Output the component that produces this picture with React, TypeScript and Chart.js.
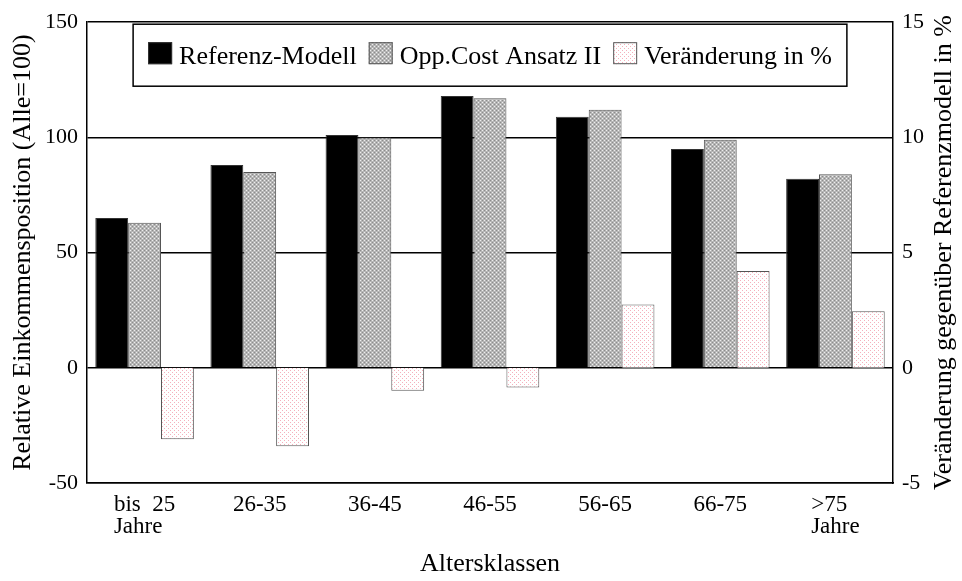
import React, { useEffect, useRef } from "react";
import { Chart, registerables } from "chart.js";

Chart.register(...registerables);

const categories: (string | string[])[] = [
  ["bis  25", "Jahre"],
  "26-35",
  "36-45",
  "46-55",
  "56-65",
  "66-75",
  [">75", "Jahre"],
];
const referenzModell = [65, 88, 101, 118, 109, 95, 82];
const oppCostAnsatz = [63, 85, 100, 117, 112, 99, 84];
const veraenderung = [-3.1, -3.4, -1.0, -0.85, 2.75, 4.2, 2.45];

const seriesLabels = ["Referenz-Modell", "Opp.Cost Ansatz II", "Veränderung in %"];
const leftTicks = [-50, 0, 50, 100, 150];
const rightTicks = [-5, 0, 5, 10, 15];
const leftTitle = "Relative Einkommensposition (Alle=100)";
const rightTitle = "Veränderung gegenüber Referenzmodell in %";
const xTitle = "Altersklassen";

const FONT = '"Liberation Serif", "Times New Roman", serif';

function makePattern(size: number, bg: string, cells: [number, number, string][]) {
  const c = document.createElement("canvas");
  c.width = size;
  c.height = size;
  const g = c.getContext("2d")!;
  g.fillStyle = bg;
  g.fillRect(0, 0, size, size);
  cells.forEach(([x, y, col]) => {
    g.fillStyle = col;
    g.fillRect(x, y, 1, 1);
  });
  const ctx = document.createElement("canvas").getContext("2d")!;
  return ctx.createPattern(c, "repeat")!;
}

export default function App() {
  const ref = useRef<HTMLCanvasElement | null>(null);

  useEffect(() => {
    const canvas = ref.current!;
    const grayPat = makePattern(4, "#b6b6b6", [
      [0, 0, "#eeeeee"],
      [2, 2, "#eeeeee"],
      [2, 0, "#8c8c8c"],
      [0, 2, "#8c8c8c"],
    ]);
    const pinkPat = makePattern(4, "#ffffff", [
      [0, 0, "#f4b0bc"],
      [2, 2, "#f4b0bc"],
    ]);
    const fills = ["#000000", grayPat, pinkPat];
    const borders = ["#333333", "#555555", "#555555"];

    const overlay = {
      id: "overlay",
      afterDraw(chart: any) {
        const ctx = chart.ctx as CanvasRenderingContext2D;
        const a = chart.chartArea;
        ctx.save();

        // Category labels (lines left-aligned inside a centred block)
        const xs = chart.scales.x;
        ctx.font = `23px ${FONT}`;
        ctx.fillStyle = "#000";
        ctx.textAlign = "left";
        ctx.textBaseline = "alphabetic";
        categories.forEach((lab, i) => {
          const lines = Array.isArray(lab) ? lab : [lab];
          const cx = xs.getPixelForValue(i);
          const maxW = Math.max(...lines.map((l) => ctx.measureText(l).width));
          lines.forEach((l, j) => {
            ctx.fillText(l, cx - maxW / 2, a.bottom + 28 + j * 22);
          });
        });

        // Legend box
        ctx.font = `26px ${FONT}`;
        const sq = 24;
        const gapSqText = 7;
        const gapItems = 12;
        const widths = seriesLabels.map((t) => ctx.measureText(t).width);
        const itemsW =
          widths.reduce((s, w) => s + sq + gapSqText + w, 0) + gapItems * (seriesLabels.length - 1);
        const pad = 15;
        const boxW = itemsW + pad * 2;
        const boxX = (a.left + a.right) / 2 - boxW / 2;
        const boxY = a.top + 2;
        const boxH = 62;
        ctx.fillStyle = "#fff";
        ctx.fillRect(boxX, boxY, boxW, boxH);
        ctx.strokeStyle = "#000";
        ctx.lineWidth = 1.5;
        ctx.strokeRect(boxX, boxY, boxW, boxH);
        let x = boxX + pad;
        const sqTop = boxY + 18;
        seriesLabels.forEach((t, i) => {
          ctx.fillStyle = fills[i] as any;
          ctx.fillRect(x, sqTop, sq, 22);
          ctx.strokeStyle = borders[i];
          ctx.lineWidth = 1;
          ctx.strokeRect(x + 0.5, sqTop + 0.5, sq - 1, 21);
          x += sq + gapSqText;
          ctx.fillStyle = "#000";
          ctx.textAlign = "left";
          ctx.textBaseline = "alphabetic";
          ctx.fillText(t, x, sqTop + 22);
          x += widths[i] + gapItems;
        });

        // Axis titles
        ctx.font = `26px ${FONT}`;
        ctx.fillStyle = "#000";
        ctx.textAlign = "center";
        ctx.textBaseline = "middle";
        const midY = (a.top + a.bottom) / 2;
        ctx.save();
        ctx.translate(23, midY);
        ctx.rotate(-Math.PI / 2);
        ctx.fillText(leftTitle, 0, 0);
        ctx.restore();
        ctx.save();
        ctx.translate(944, midY);
        ctx.rotate(-Math.PI / 2);
        ctx.fillText(rightTitle, 0, 0);
        ctx.restore();
        ctx.fillText(xTitle, (a.left + a.right) / 2, 564);
        ctx.restore();
      },
    };

    const chart = new Chart(canvas, {
      type: "bar",
      data: {
        labels: categories,
        datasets: [
          {
            label: seriesLabels[0],
            data: referenzModell,
            backgroundColor: fills[0] as any,
            borderColor: borders[0],
            borderWidth: 1,
            yAxisID: "y",
          },
          {
            label: seriesLabels[1],
            data: oppCostAnsatz,
            backgroundColor: fills[1] as any,
            borderColor: borders[1],
            borderWidth: 1,
            yAxisID: "y",
          },
          {
            label: seriesLabels[2],
            data: veraenderung,
            backgroundColor: fills[2] as any,
            borderColor: borders[2],
            borderWidth: 1,
            yAxisID: "y1",
          },
        ],
      },
      options: {
        responsive: false,
        animation: false,
        devicePixelRatio: 1,
        layout: { padding: { top: 19, left: 0, right: 0, bottom: 0 } },
        datasets: { bar: { categoryPercentage: 0.856, barPercentage: 1 } },
        plugins: {
          legend: { display: false },
          tooltip: { enabled: false },
          title: { display: false },
        },
        scales: {
          x: {
            grid: { display: false, drawTicks: false },
            border: { display: true, color: "#000", width: 1.5 },
            ticks: { display: false, autoSkip: false },
            afterFit(scale: any) {
              scale.height = 98;
            },
          },
          y: {
            position: "left",
            min: -50,
            max: 150,
            afterBuildTicks(scale: any) {
              scale.ticks = leftTicks.map((v) => ({ value: v }));
            },
            grid: { color: "#000", lineWidth: 1.5, drawTicks: false },
            border: { display: true, color: "#000", width: 1.5 },
            ticks: {
              color: "#000",
              font: { family: FONT, size: 22 },
              padding: 9,
            },
            afterFit(scale: any) {
              scale.width = 87;
            },
          },
          y1: {
            position: "right",
            min: -5,
            max: 15,
            afterBuildTicks(scale: any) {
              scale.ticks = rightTicks.map((v) => ({ value: v }));
            },
            grid: { display: false, drawTicks: false },
            border: { display: true, color: "#000", width: 1.5 },
            ticks: {
              color: "#000",
              font: { family: FONT, size: 22 },
              padding: 9,
            },
            afterFit(scale: any) {
              scale.width = 69;
            },
          },
        },
      },
      plugins: [overlay],
    });
    return () => chart.destroy();
  }, []);

  return (
    <div style={{ position: "absolute", left: 0, top: 0, width: 962, height: 581, background: "#fff" }}>
      <canvas ref={ref} width={962} height={581} style={{ display: "block", width: 962, height: 581 }} />
    </div>
  );
}
